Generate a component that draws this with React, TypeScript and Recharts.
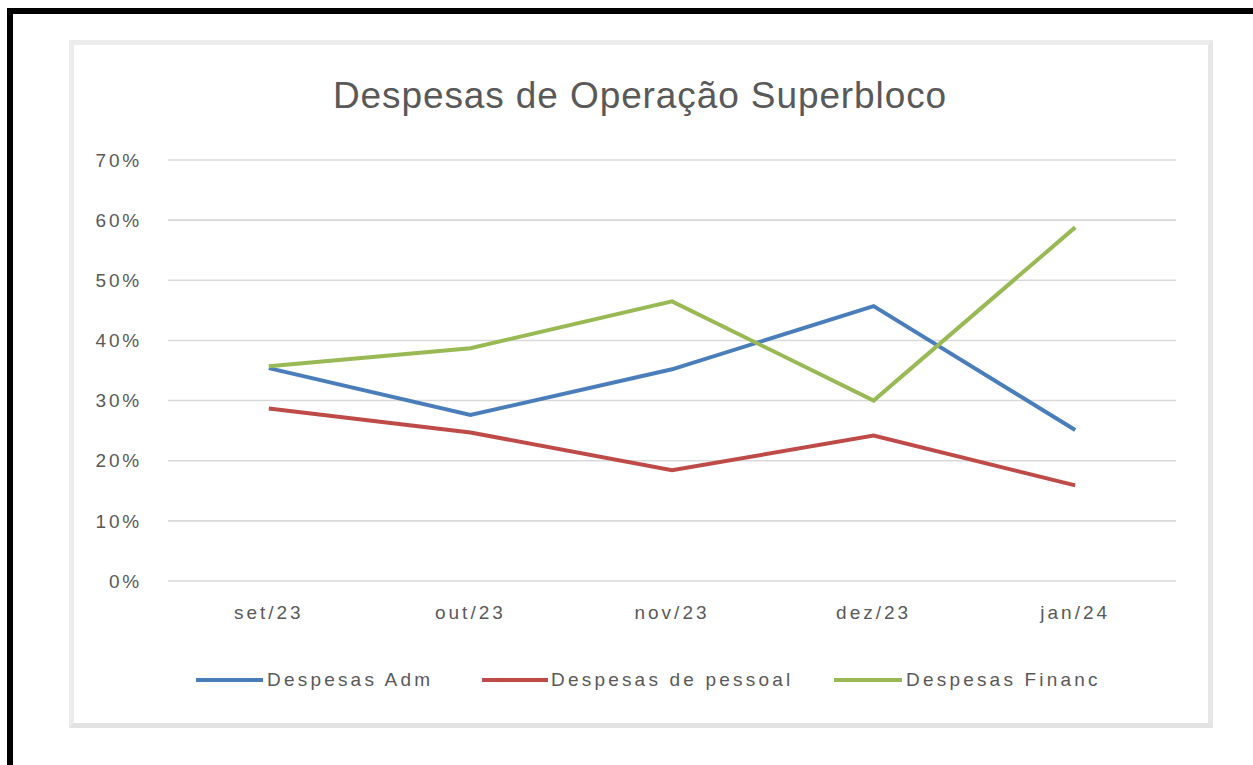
import React from "react";
import { LineChart, Line, XAxis, YAxis, CartesianGrid, Legend } from "recharts";

const months = ["set/23", "out/23", "nov/23", "dez/23", "jan/24"];
const despesasAdm = [0.354, 0.276, 0.352, 0.457, 0.251];
const despesasPessoal = [0.287, 0.247, 0.184, 0.242, 0.159];
const despesasFinanc = [0.357, 0.387, 0.465, 0.300, 0.588];
const yTicks = [0, 0.1, 0.2, 0.3, 0.4, 0.5, 0.6, 0.7];
const seriesNames = ["Despesas Adm", "Despesas de pessoal", "Despesas Financ"];
const seriesColors = ["#4A7EBB", "#BE4B48", "#98B954"];
const title = "Despesas de Operação Superbloco";

const data = months.map((m, i) => ({
  month: m,
  idx: i + 0.5,
  adm: despesasAdm[i],
  pessoal: despesasPessoal[i],
  financ: despesasFinanc[i],
}));

const FONT = "'Liberation Sans', Arial, sans-serif";
const TEXT = "#595959";

const LegendContent = () => (
  <div style={{ position: "relative", width: 1253, height: 30, fontFamily: FONT }}>
    {[
      { x: 196, w: 67, tx: 267 },
      { x: 482, w: 66, tx: 551 },
      { x: 834, w: 68, tx: 906 },
    ].map((p, i) => (
      <div key={i}>
        <div
          style={{
            position: "absolute",
            left: p.x,
            top: 11,
            width: p.w,
            height: 4,
            background: seriesColors[i],
          }}
        />
        <div
          style={{
            position: "absolute",
            left: p.tx,
            top: 1,
            fontSize: 19,
            letterSpacing: 3.2,
            color: TEXT,
            whiteSpace: "nowrap",
            lineHeight: "24px",
          }}
        >
          {seriesNames[i]}
        </div>
      </div>
    ))}
  </div>
);

export default function App() {
  return (
    <div style={{ position: "absolute", left: 0, top: 0, width: 1253, height: 765, background: "#fff" }}>
      <div
        style={{
          position: "absolute",
          left: 7,
          top: 8,
          width: 1246,
          height: 757,
          borderTop: "6px solid #000",
          borderLeft: "6px solid #000",
          boxSizing: "border-box",
        }}
      />
      <div
        style={{
          position: "absolute",
          left: 69,
          top: 40,
          width: 1144,
          height: 688,
          border: "5px solid #ececec",
          borderBottomColor: "#e2e2e2",
          borderRightColor: "#e6e6e6",
          boxSizing: "border-box",
        }}
      />
      <div
        style={{
          position: "absolute",
          left: 0,
          top: 74,
          width: 1280,
          textAlign: "center",
          fontFamily: FONT,
          fontSize: 37,
          letterSpacing: 0.9,
          color: TEXT,
          whiteSpace: "nowrap",
          lineHeight: "44px",
        }}
      >
        {title}
      </div>
      <div style={{ position: "absolute", left: 0, top: 0 }}>
        <LineChart
          width={1253}
          height={765}
          data={data}
          margin={{ top: 160, right: 77, left: 0, bottom: 154 }}
        >
          <CartesianGrid vertical={false} stroke="#d9d9d9" strokeWidth={1.6} />
          <XAxis
            xAxisId="ticks"
            type="number"
            dataKey="idx"
            domain={[0, 5]}
            ticks={[0, 1, 2, 3, 4, 5]}
            tick={false}
            tickLine={{ stroke: "#d9d9d9", strokeWidth: 2 }}
            tickSize={7}
            axisLine={{ stroke: "#d9d9d9", strokeWidth: 2 }}
            height={0}
          />
          <XAxis
            dataKey="month"
            padding={{ left: 100.8, right: 100.8 }}
            axisLine={false}
            tickLine={false}
            tickSize={0}
            tickMargin={25}
            height={30}
            tick={{ fill: TEXT, fontSize: 19, fontFamily: FONT, letterSpacing: 3 }}
          />
          <YAxis
            width={168}
            domain={[0, 0.7]}
            ticks={yTicks}
            axisLine={false}
            tickLine={false}
            tickSize={0}
            tickMargin={26}
            tickFormatter={(v: number) => `${Math.round(v * 100)}%`}
            tick={{ fill: TEXT, fontSize: 19, fontFamily: FONT, letterSpacing: 2.8 }}
          />
          <Legend
            verticalAlign="middle"
            layout="horizontal"
            content={<LegendContent />}
            wrapperStyle={{ top: 667, left: 0, width: 1253 }}
          />
          <Line
            dataKey="adm"
            name={seriesNames[0]}
            stroke={seriesColors[0]}
            strokeWidth={4}
            dot={false}
            isAnimationActive={false}
          />
          <Line
            dataKey="pessoal"
            name={seriesNames[1]}
            stroke={seriesColors[1]}
            strokeWidth={4}
            dot={false}
            isAnimationActive={false}
          />
          <Line
            dataKey="financ"
            name={seriesNames[2]}
            stroke={seriesColors[2]}
            strokeWidth={4}
            dot={false}
            isAnimationActive={false}
          />
        </LineChart>
      </div>
    </div>
  );
}
